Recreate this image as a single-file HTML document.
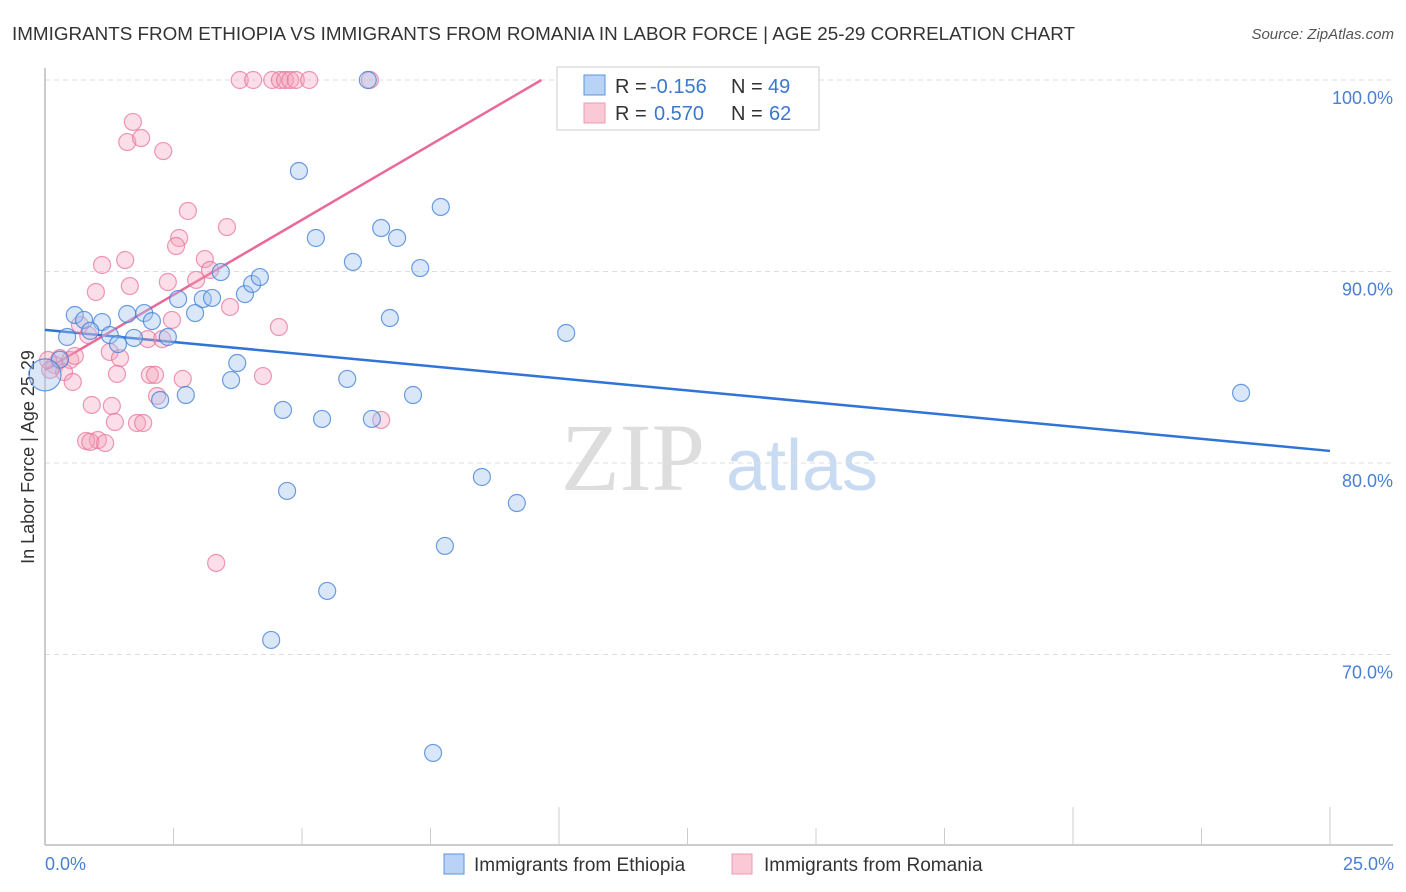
<!DOCTYPE html>
<html><head><meta charset="utf-8"><style>
body{margin:0;background:#fff;font-family:"Liberation Sans",sans-serif;}
svg{display:block}
</style></head><body>
<svg id="chart" width="1406" height="892" xmlns="http://www.w3.org/2000/svg">
<text x="12" y="40" font-size="18" fill="#333" textLength="1063" lengthAdjust="spacingAndGlyphs">IMMIGRANTS FROM ETHIOPIA VS IMMIGRANTS FROM ROMANIA IN LABOR FORCE | AGE 25-29 CORRELATION CHART</text>
<text x="1394" y="39" font-size="15" fill="#555" font-style="italic" text-anchor="end">Source: ZipAtlas.com</text>
<text transform="translate(34,457) rotate(-90)" font-size="18" fill="#333" text-anchor="middle">In Labor Force | Age 25-29</text>
<g>
<text x="633" y="490" font-size="96" font-family="Liberation Serif,serif" fill="#ddd" text-anchor="middle">ZIP</text>
<text x="802" y="490" font-size="72" fill="#c9dbf3" text-anchor="middle">atlas</text>
</g>
<g id="grid"></g><g id="axes"></g><g id="lines"></g><g id="pts"></g>
<g>
<rect x="557" y="67" width="262" height="63" fill="#fff" stroke="#ddd" stroke-width="1.5"/>
<rect x="584" y="75" width="21" height="20" fill="#b8d3f5" stroke="#5b93dd"/>
<rect x="584" y="103" width="21" height="20" fill="#fbc8d6" stroke="#eb9ab2"/>
<text x="615" y="93" font-size="20" fill="#333">R =</text><text x="650" y="93" font-size="20" fill="#3a78d0">-0.156</text>
<text x="731" y="93" font-size="20" fill="#333">N =</text><text x="768" y="93" font-size="20" fill="#3a78d0">49</text>
<text x="615" y="120" font-size="20" fill="#333">R =</text><text x="654" y="120" font-size="20" fill="#3a78d0">0.570</text>
<text x="731" y="120" font-size="20" fill="#333">N =</text><text x="769" y="120" font-size="20" fill="#3a78d0">62</text>
</g>
<g>
<rect x="444" y="854" width="20" height="20" fill="#b8d3f5" stroke="#5b93dd"/>
<text x="474" y="871" font-size="19" fill="#333">Immigrants from Ethiopia</text>
<rect x="732" y="854" width="20" height="20" fill="#fbc8d6" stroke="#eb9ab2"/>
<text x="764" y="871" font-size="19" fill="#333">Immigrants from Romania</text>
</g>
<text x="45" y="870" font-size="18" fill="#4a7fd4">0.0%</text>
<text x="1394" y="870" font-size="18" fill="#4a7fd4" text-anchor="end">25.0%</text>
</svg>
<script>
const yTicks=[100,90,80,70];
const yTickLabels=["100.0%","90.0%","80.0%","70.0%"];
const ethX=[0.58,0.43,1.11,0.76,1.26,1.42,1.60,1.73,1.93,2.08,2.24,2.39,2.59,2.74,2.92,3.07,3.25,3.42,3.62,3.74,3.89,4.03,4.18,4.63,4.71,4.40,4.94,5.27,5.39,5.49,5.88,5.99,6.28,6.36,6.54,6.71,6.85,7.16,7.30,7.55,7.70,7.78,8.50,9.18,10.14,23.27,0.29,0.88,0.0];
const ethY=[87.73,86.58,87.36,87.47,86.68,86.21,87.78,86.53,87.83,87.41,83.29,86.58,88.56,83.55,87.83,88.56,88.62,89.97,84.33,85.22,88.82,89.35,89.71,82.77,78.54,70.76,95.25,91.75,82.30,73.32,84.39,90.50,100,82.30,92.27,87.57,91.75,83.55,90.18,64.86,93.37,75.67,79.27,77.91,86.79,83.66,85.4,86.9,84.6];
const romX=[3.79,4.05,4.42,4.57,4.67,4.77,4.88,5.14,6.32,12.2,1.71,1.60,1.87,2.30,2.78,3.54,2.61,2.55,1.11,1.56,3.11,0.99,1.65,2.39,2.94,3.21,3.60,2.47,0.68,0.84,1.26,1.46,4.55,2.00,2.28,0.29,0.19,0.49,0.58,0.37,0.54,1.40,2.04,2.14,2.68,4.24,2.18,0.91,1.30,1.36,1.79,1.91,1.03,0.80,0.88,1.17,3.33,6.54,0.06,0.10];
const romY=[100,100,100,100,100,100,100,100,100,100,97.81,96.76,96.97,96.29,93.16,92.32,91.75,91.33,90.34,90.60,90.65,88.93,89.24,89.45,89.56,90.08,88.15,87.47,87.21,86.68,85.80,85.48,87.10,86.47,86.47,85.48,85.12,85.38,85.59,84.75,84.23,84.65,84.60,84.60,84.39,84.54,83.50,83.03,82.98,82.14,82.09,82.09,81.20,81.15,81.10,81.04,74.78,82.25,85.38,84.86];
const ethTrend=[86.95,80.63];
const romTrend=[84.86,100.05];
const NS="http://www.w3.org/2000/svg";
const X0=45,X1=1330,YTOP=80,YPER=19.15;
function sx(v){return X0+(X1-X0)*v/25;}
function sy(v){return YTOP+(100-v)*YPER;}
function mk(t,a,p){const e=document.createElementNS(NS,t);for(const k in a)e.setAttribute(k,a[k]);p.appendChild(e);return e;}
const grid=document.getElementById('grid'),axes=document.getElementById('axes'),lines=document.getElementById('lines'),pts=document.getElementById('pts');
yTicks.forEach((v,i)=>{
 const l=mk('line',{x1:X0,x2:1393,y1:sy(v),y2:sy(v),stroke:'#ddd','stroke-dasharray':'5,4'},grid);
 
 
 const t=mk('text',{x:1393,y:sy(v)+24,'font-size':18,fill:'#4a7fd4','text-anchor':'end'},grid);
 t.textContent=yTickLabels[i];
 
 
});
const ya=mk('line',{x1:X0,x2:X0,y1:68,y2:845,stroke:'#bbb','stroke-width':1.5},axes);


const xa=mk('line',{x1:X0,x2:1393,y1:845,y2:845,stroke:'#bbb','stroke-width':1.5},axes);


for(let i=1;i<=10;i++){
 const v=i*2.5;
 const tk=mk('line',{x1:sx(v),x2:sx(v),y1:(i%4==0||i==10)?807:828,y2:845,stroke:'#ccc'},axes);
 
 
}
const bl=mk('line',{x1:sx(0),y1:sy(ethTrend[0]),x2:sx(25),y2:sy(ethTrend[1]),stroke:'#2f74d6','stroke-width':2.5},lines);


const xe=25*(100-romTrend[0])/((romTrend[1]-romTrend[0])*25/9.69);
const pl=mk('line',{x1:sx(0),y1:sy(romTrend[0]),x2:sx(xe),y2:sy(100),stroke:'#e8699a','stroke-width':2.5},lines);


romX.forEach((x,i)=>{
 const c=mk('circle',{cx:sx(x),cy:sy(romY[i]),r:8.5,fill:'rgba(244,160,185,0.35)',stroke:'rgba(232,110,150,0.7)','stroke-width':1.2},pts);
 
 
});
ethX.forEach((x,i)=>{
 const r=(i==ethX.length-1)?16:8.5;
 const c=mk('circle',{cx:sx(x),cy:sy(ethY[i]),r:r,fill:'rgba(160,196,240,0.4)',stroke:'rgba(60,125,215,0.75)','stroke-width':1.2},pts);
 
 
});
</script>
</body></html>
